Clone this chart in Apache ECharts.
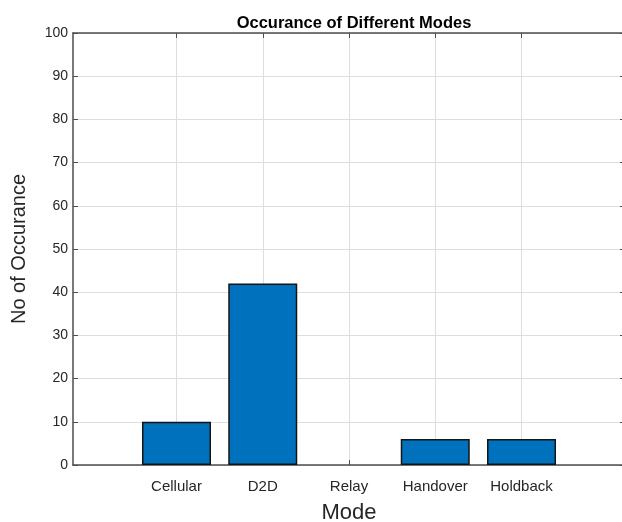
<!DOCTYPE html>
<html>
<head>
<meta charset="utf-8">
<script src="https://cdn.jsdelivr.net/npm/echarts@6/dist/echarts.min.js"></script>
<style>
  html, body { margin: 0; padding: 0; background: #fff; }
  #chart { width: 622px; height: 522px; }
</style>
</head>
<body>
<div id="chart"></div>
<script>
// Mode names along the x axis and how often each one occurred
const categories = ['Cellular', 'D2D', 'Relay', 'Handover', 'Holdback'];
const occurrences = [10, 42, 0, 6, 6];
const positions = [1, 2, 3, 4, 5];

const FONT = '"Liberation Sans", Arial, Helvetica, sans-serif';
const AXIS_COLOR = '#4d4d4d';
const TEXT_COLOR = '#262626';
const GRID_COLOR = '#dedede';

const chart = echarts.init(document.getElementById('chart'), null, { renderer: 'canvas' });

// zero-height bars get no outline so they leave nothing on the axis
const barData = positions.map((p, i) => ({
  value: [p, occurrences[i]],
  itemStyle: occurrences[i] === 0 ? { borderWidth: 0, opacity: 0 } : undefined
}));

const boxAxis = {
  axisLine: { show: true, onZero: false, lineStyle: { color: AXIS_COLOR, width: 1.5 } },
  axisLabel: { show: false },
  splitLine: { show: false }
};

chart.setOption({
  animation: false,
  backgroundColor: '#ffffff',
  title: {
    text: 'Occurance of Different Modes',
    left: 349,
    textAlign: 'center',
    top: 10,
    textStyle: { fontFamily: FONT, fontSize: 16.5, fontWeight: 'bold', color: '#000' }
  },
  grid: { left: 73, top: 33, width: 552, height: 432, containLabel: false, outerBoundsMode: 'none' },
  xAxis: [
    {
      type: 'value',
      min: -0.2,
      max: 6.2,
      position: 'bottom',
      name: 'Mode',
      nameLocation: 'middle',
      nameGap: 37,
      nameTextStyle: { fontFamily: FONT, fontSize: 22, color: TEXT_COLOR },
      axisLine: { show: true, onZero: false, lineStyle: { color: AXIS_COLOR, width: 1.5 } },
      axisTick: { show: true, inside: true, length: 5, customValues: positions, lineStyle: { color: AXIS_COLOR } },
      axisLabel: {
        show: true,
        customValues: positions,
        margin: 14,
        fontFamily: FONT, fontSize: 15, color: TEXT_COLOR,
        formatter: v => categories[Math.round(v) - 1] || ''
      },
      splitLine: { show: true, lineStyle: { color: GRID_COLOR, width: 1 } }
    },
    Object.assign({
      type: 'value',
      min: -0.2,
      max: 6.2,
      position: 'top',
      axisTick: { show: true, inside: true, length: 5, customValues: positions, lineStyle: { color: AXIS_COLOR } }
    }, boxAxis)
  ],
  yAxis: [
    {
      type: 'value',
      min: 0,
      max: 100,
      interval: 10,
      position: 'left',
      name: 'No of Occurance',
      nameLocation: 'middle',
      nameGap: 44,
      nameTextStyle: { fontFamily: FONT, fontSize: 20, color: TEXT_COLOR },
      axisLine: { show: true, onZero: false, lineStyle: { color: AXIS_COLOR, width: 1.5 } },
      axisTick: { show: true, inside: true, length: 5, lineStyle: { color: AXIS_COLOR } },
      axisLabel: { margin: 5, fontFamily: FONT, fontSize: 14, color: TEXT_COLOR },
      splitLine: { show: true, lineStyle: { color: GRID_COLOR, width: 1 } }
    },
    Object.assign({
      type: 'value',
      min: 0,
      max: 100,
      interval: 10,
      position: 'right',
      axisTick: { show: true, inside: true, length: 5, lineStyle: { color: AXIS_COLOR } }
    }, boxAxis)
  ],
  series: [
    {
      type: 'bar',
      xAxisIndex: 0,
      yAxisIndex: 0,
      data: barData,
      barWidth: 69,
      itemStyle: { color: '#0072BD', borderColor: '#141414', borderWidth: 1.5 },
      z: 1
    }
  ]
});
</script>
</body>
</html>
